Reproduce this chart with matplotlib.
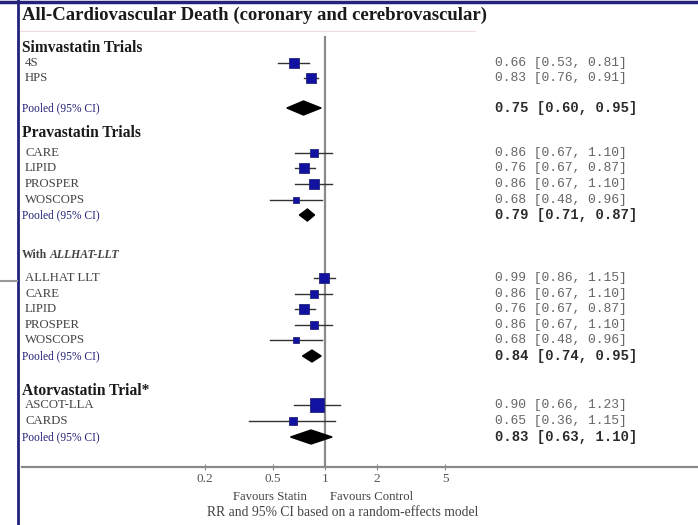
import matplotlib
matplotlib.use("Agg")
import matplotlib.pyplot as plt
from matplotlib.lines import Line2D

# ---- data ----
GROUPS = ["Simvastatin Trials", "Pravastatin Trials", "With ALLHAT-LLT", "Atorvastatin Trial*"]

SIMVA_NAMES = ["4S", "HPS"]
SIMVA_RR    = [0.66, 0.83]
SIMVA_LO    = [0.53, 0.76]
SIMVA_HI    = [0.81, 0.91]
SIMVA_POOL  = [0.75, 0.60, 0.95]

PRAVA_NAMES = ["CARE", "LIPID", "PROSPER", "WOSCOPS"]
PRAVA_RR    = [0.86, 0.76, 0.86, 0.68]
PRAVA_LO    = [0.67, 0.67, 0.67, 0.48]
PRAVA_HI    = [1.10, 0.87, 1.10, 0.96]
PRAVA_POOL  = [0.79, 0.71, 0.87]

ALLHAT_NAMES = ["ALLHAT LLT", "CARE", "LIPID", "PROSPER", "WOSCOPS"]
ALLHAT_RR    = [0.99, 0.86, 0.76, 0.86, 0.68]
ALLHAT_LO    = [0.86, 0.67, 0.67, 0.67, 0.48]
ALLHAT_HI    = [1.15, 1.10, 0.87, 1.10, 0.96]
ALLHAT_POOL  = [0.84, 0.74, 0.95]

ATORVA_NAMES = ["ASCOT-LLA", "CARDS"]
ATORVA_RR    = [0.90, 0.65]
ATORVA_LO    = [0.66, 0.36]
ATORVA_HI    = [1.23, 1.15]
ATORVA_POOL  = [0.83, 0.63, 1.10]

X_TICKS = [0.2, 0.5, 1, 2, 5]
X_TICK_LABELS = ["0.2", "0.5", "1", "2", "5"]

# ---- layout (pixel rows of the 698x525 canvas) ----
W, H = 698, 525
X_ONE, PX_DECADE = 325, 172          # pixel of RR=1 and pixels per decade
AX_LEFT, AX_TOP, AX_BOTTOM = 22, 30, 467

HEADER_Y = [48, 133, 255, 391]
ROWS_Y   = [[63, 78], [153, 168, 184, 200], [278, 294, 309, 325, 340], [405, 421]]
POOL_Y   = [108, 215, 356, 437]
SQ_SIZE  = [[6.5, 7.5], [6.0, 7.2, 6.5, 5.0], [6.5, 6.0, 7.2, 5.8, 4.8], [9.5, 6.0]]
DIA_HALF = [7, 6, 6, 7]

BLUE = "#1212a0"
NAVY = "#23237a"
GREY_TXT = "#444444"
SERIF = ["Liberation Serif", "DejaVu Serif"]
MONO = ["Liberation Mono", "DejaVu Sans Mono"]

groups = [
    (SIMVA_NAMES, SIMVA_RR, SIMVA_LO, SIMVA_HI, SIMVA_POOL),
    (PRAVA_NAMES, PRAVA_RR, PRAVA_LO, PRAVA_HI, PRAVA_POOL),
    (ALLHAT_NAMES, ALLHAT_RR, ALLHAT_LO, ALLHAT_HI, ALLHAT_POOL),
    (ATORVA_NAMES, ATORVA_RR, ATORVA_LO, ATORVA_HI, ATORVA_POOL),
]

fig = plt.figure(figsize=(W / 100, H / 100), dpi=100)
fig.patch.set_facecolor("white")

ax = fig.add_axes([AX_LEFT / W, (H - AX_BOTTOM) / H, 1 - AX_LEFT / W, (AX_BOTTOM - AX_TOP) / H])
ax.set_xscale("log")
ax.set_xlim(10 ** ((AX_LEFT - X_ONE) / PX_DECADE), 10 ** ((W - X_ONE) / PX_DECADE))
ax.set_ylim(AX_BOTTOM, AX_TOP)
ax.patch.set_alpha(0)
for side in ["top", "right", "left"]:
    ax.spines[side].set_visible(False)
ax.spines["bottom"].set_color("#8a8a8a")
ax.spines["bottom"].set_linewidth(1.6)
ax.set_yticks([])
ax.set_xticks(X_TICKS)
ax.set_xticklabels(X_TICK_LABELS, fontfamily=SERIF, fontsize=9.5, color="#555555")
ax.minorticks_off()
ax.tick_params(axis="x", direction="inout", length=4, width=0.8, color="#888888", pad=2)

# line of no effect
ax.plot([1, 1], [37, AX_BOTTOM], color="#8a8a8a", lw=1.6, zorder=1)

lab = ax.get_yaxis_transform()  # x in axes fraction, y in data


def fx(px):
    return (px - AX_LEFT) / (W - AX_LEFT)


for gi, (names, rr, lo, hi, pool) in enumerate(groups):
    if gi == 2:
        ax.text(fx(22), HEADER_Y[gi], "With", transform=lab, fontfamily=SERIF,
                fontsize=8.5, color=GREY_TXT, va="center", fontweight="bold")
        ax.text(fx(50), HEADER_Y[gi], "ALLHAT-LLT", transform=lab, fontfamily=SERIF,
                fontsize=8.5, color=GREY_TXT, va="center", style="italic", fontweight="bold")
    else:
        ax.text(fx(22), HEADER_Y[gi], GROUPS[gi], transform=lab, fontfamily=SERIF,
                fontsize=11.2, fontweight="bold", color="#1a1a1a", va="center")
    for i, name in enumerate(names):
        y = ROWS_Y[gi][i]
        ax.plot([lo[i], hi[i]], [y, y], color="#333333", lw=1.0, zorder=2)
        ax.plot(rr[i], y, marker="s", ms=SQ_SIZE[gi][i], color=BLUE, mec=NAVY, mew=0.6, zorder=3)
        ax.text(fx(25), y, name, transform=lab, fontfamily=SERIF, fontsize=9.2,
                color=GREY_TXT, va="center")
        ax.text(fx(495), y, f"{rr[i]:.2f} [{lo[i]:.2f}, {hi[i]:.2f}]", transform=lab,
                fontfamily=MONO, fontsize=9.4, color="#666666", va="center")
    p, pl, ph = pool
    y = POOL_Y[gi]
    h = DIA_HALF[gi]
    ax.fill([pl, p, ph, p], [y, y - h, y, y + h], color="black", zorder=3)
    ax.text(fx(22), y, "Pooled (95% CI)", transform=lab, fontfamily=SERIF, fontsize=8.3,
            color=NAVY, va="center")
    ax.text(fx(495), y, f"{p:.2f} [{pl:.2f}, {ph:.2f}]", transform=lab,
            fontfamily=MONO, fontsize=10, fontweight="bold", color="#2a2a2a", va="center")

# title and footer
fig.text(22 / W, 1 - 15 / H, "All-Cardiovascular Death (coronary and cerebrovascular)",
         fontfamily=SERIF, fontsize=13.5, fontweight="bold", color="#1a1a1a", va="center")
fig.text(307 / W, 1 - 497 / H, "Favours Statin", fontfamily=SERIF, fontsize=9.2,
         color="#444444", ha="right", va="center")
fig.text(330 / W, 1 - 497 / H, "Favours Control", fontfamily=SERIF, fontsize=9.2,
         color="#444444", ha="left", va="center")
fig.text(343 / W, 1 - 512 / H, "RR and 95% CI based on a random-effects model",
         fontfamily=SERIF, fontsize=9.8, color="#444444", ha="center", va="center")

# frame decoration
fig.add_artist(Line2D([0, 1], [1 - 1.5 / H, 1 - 1.5 / H], color=NAVY, lw=2.5))
fig.add_artist(Line2D([18 / W, 18 / W], [0, 1], color=NAVY, lw=2))
fig.add_artist(Line2D([20 / W, 0.68], [1 - 31 / H, 1 - 31 / H], color="#f0dada", lw=0.8))
fig.add_artist(Line2D([0, 17 / W], [1 - 281 / H, 1 - 281 / H], color="#999999", lw=1.5))

fig.savefig("out.png", dpi=100)
